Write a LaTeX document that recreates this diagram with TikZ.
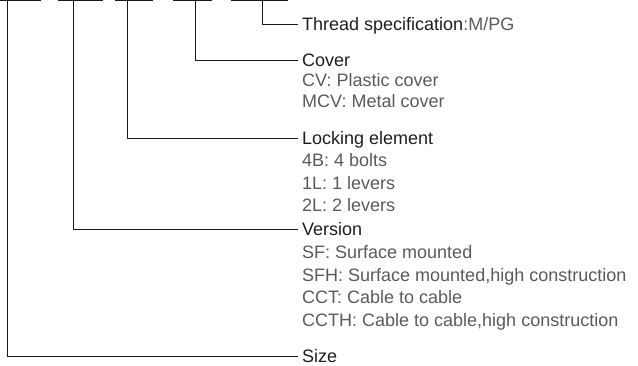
\documentclass[tikz,border=0pt]{standalone}
\usepackage{fontspec}
\setmainfont{Liberation Sans}
\definecolor{headc}{HTML}{1E1E1E}
\definecolor{itemc}{HTML}{5A5A5A}
\begin{document}
\begin{tikzpicture}[x=1pt,y=-1pt,
  lbl/.style={anchor=west,inner xsep=4pt,inner ysep=0pt,text height=13pt,text depth=0pt,font=\fontsize{18}{22}\selectfont},
  head/.style={lbl,text=headc},
  item/.style={lbl,text=itemc},
  wire/.style={line width=0.9pt,draw=black!90},
  bar/.style={line width=1.2pt,draw=black!90}]
\useasboundingbox (0,0) rectangle (638,365);
% top bars
\draw[bar] (0,0.6) -- (41,0.6);
\draw[bar] (58,0.6) -- (103,0.6);
\draw[bar] (115,0.6) -- (153,0.6);
\draw[bar] (173,0.6) -- (212,0.6);
\draw[bar] (231,0.6) -- (288,0.6);
\coordinate (b1) at (7,0.6);
\coordinate (b2) at (73,0.6);
\coordinate (b3) at (127,0.6);
\coordinate (b4) at (195,0.6);
\coordinate (b5) at (262,0.6);
% labels
\node[head] (thread) at (298,24) {Thread specification\textcolor{itemc}{:M/PG}};
\node[head] (cover) at (298,60) {Cover};
\node[item] (cv) at (298,80) {CV: Plastic cover};
\node[item] (mcv) at (298,101) {MCV: Metal cover};
\node[head] (lock) at (298,138) {Locking element};
\node[item] (l4b) at (298,160) {4B: 4 bolts};
\node[item] (l1l) at (298,183) {1L: 1 levers};
\node[item] (l2l) at (298,205) {2L: 2 levers};
\node[head] (ver) at (298,229) {Version};
\node[item] (sf) at (298,252) {SF: Surface mounted};
\node[item] (sfh) at (298,275) {SFH: Surface mounted,high construction};
\node[item] (cct) at (298,297) {CCT: Cable to cable};
\node[item] (ccth) at (298,320) {CCTH: Cable to cable,high construction};
\node[head] (size) at (298,356) {Size};
% connectors
\draw[wire] (b5) |- (thread.west);
\draw[wire] (b4) |- (cover.west);
\draw[wire] (b3) |- (lock.west);
\draw[wire] (b2) |- (ver.west);
\draw[wire] (b1) |- (size.west);
\end{tikzpicture}
\end{document}
